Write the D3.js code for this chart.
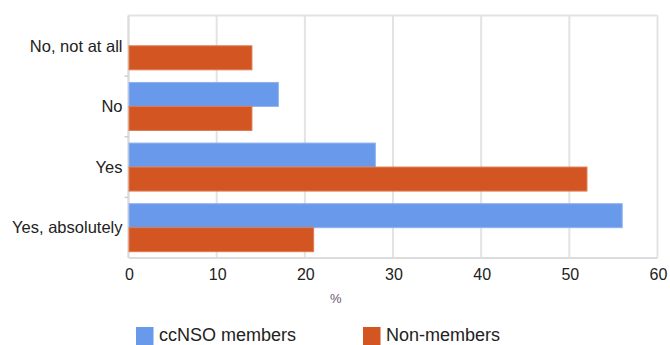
<!DOCTYPE html>
<html>
<head>
<meta charset="utf-8">
<script src="https://cdn.jsdelivr.net/npm/d3@7"></script>
<style>
  html, body { margin: 0; padding: 0; background: #fff; }
  svg { display: block; font-family: "Liberation Sans", Arial, Helvetica, sans-serif; }
</style>
</head>
<body>
<svg id="chart" width="670" height="345"></svg>
<script>
// Survey answers (percent of respondents)
const categories = ["No, not at all", "No", "Yes", "Yes, absolutely"];
const seriesNames = ["ccNSO members", "Non-members"];
const ccnsoMembers = [0, 17, 28, 56];
const nonMembers = [14, 14, 52, 21];
const xTicks = [0, 10, 20, 30, 40, 50, 60];
const xAxisTitle = "%";

const colors = ["#6899eb", "#d35522"];
const strokes = ["#8fb3f0", "#dd7a50"];

const svg = d3.select("#chart");
const margin = { top: 15.5, right: 12.5, bottom: 87, left: 128.5 };
const width = 670 - margin.left - margin.right;
const height = 345 - margin.top - margin.bottom;

const g = svg.append("g").attr("transform", `translate(${margin.left},${margin.top})`);

const x = d3.scaleLinear().domain([0, 60]).range([0, width]);
const y = d3.scaleBand().domain(categories).range([0, height]).paddingInner(0).paddingOuter(0);
const barH = 24;

// Vertical gridlines and frame
g.selectAll(".grid").data(xTicks).join("line")
  .attr("x1", d => x(d)).attr("x2", d => x(d))
  .attr("y1", 0).attr("y2", height)
  .attr("stroke", "#e3e3e3").attr("stroke-width", 2);
g.append("line").attr("x1", 0).attr("x2", width).attr("y1", 0).attr("y2", 0)
  .attr("stroke", "#e3e3e3").attr("stroke-width", 2);
g.append("line").attr("x1", 0).attr("x2", width).attr("y1", height).attr("y2", height)
  .attr("stroke", "#dcdcdc").attr("stroke-width", 2);
g.append("line").attr("x1", 0).attr("x2", 0).attr("y1", 0).attr("y2", height)
  .attr("stroke", "#dcdcdc").attr("stroke-width", 2);

// Small marks at category boundaries on the left axis
const bounds = categories.slice(1).map(c => y(c));
g.selectAll(".bt").data(bounds).join("line")
  .attr("x1", -4).attr("x2", 0).attr("y1", d => d).attr("y2", d => d)
  .attr("stroke", "#cfcfcf").attr("stroke-width", 1.5);

// Bars
const rows = categories.map((c, i) => ({ c, vals: [ccnsoMembers[i], nonMembers[i]] }));
const grp = g.selectAll(".row").data(rows).join("g")
  .attr("transform", d => `translate(0,${y(d.c) + y.bandwidth() / 2 - barH})`);
grp.selectAll("rect").data(d => d.vals.map((v, k) => ({ v, k })).filter(e => e.v > 0)).join("rect")
  .attr("x", 0.5)
  .attr("y", d => d.k * barH)
  .attr("width", d => x(d.v) - 0.5)
  .attr("height", barH)
  .attr("fill", d => colors[d.k])
  .attr("stroke", d => strokes[d.k])
  .attr("stroke-width", 1);

// Category labels
g.selectAll(".cat").data(categories).join("text")
  .attr("x", -6).attr("y", d => y(d) + y.bandwidth() / 2)
  .attr("dy", "0.35em")
  .attr("text-anchor", "end")
  .attr("font-size", 16.5)
  .attr("fill", "#222")
  .text(d => d);

// X tick labels
g.selectAll(".xt").data(xTicks).join("text")
  .attr("x", d => x(d) + 1).attr("y", height + 22)
  .attr("text-anchor", "middle")
  .attr("font-size", 16)
  .attr("fill", "#222")
  .text(d => d);

// Axis title
g.append("text")
  .attr("x", x(23.5)).attr("y", height + 45)
  .attr("text-anchor", "middle")
  .attr("font-size", 13)
  .attr("fill", "#6a5570")
  .text(xAxisTitle);

// Legend
const legendX = [136, 363];
const lg = svg.selectAll(".lg").data(seriesNames).join("g")
  .attr("transform", (d, i) => `translate(${legendX[i]},327)`);
lg.append("rect").attr("width", 17.5).attr("height", 18).attr("fill", (d, i) => colors[i]);
lg.append("text").attr("x", 23).attr("y", 13.5).attr("font-size", 18).attr("fill", "#222").text(d => d);
</script>
</body>
</html>
